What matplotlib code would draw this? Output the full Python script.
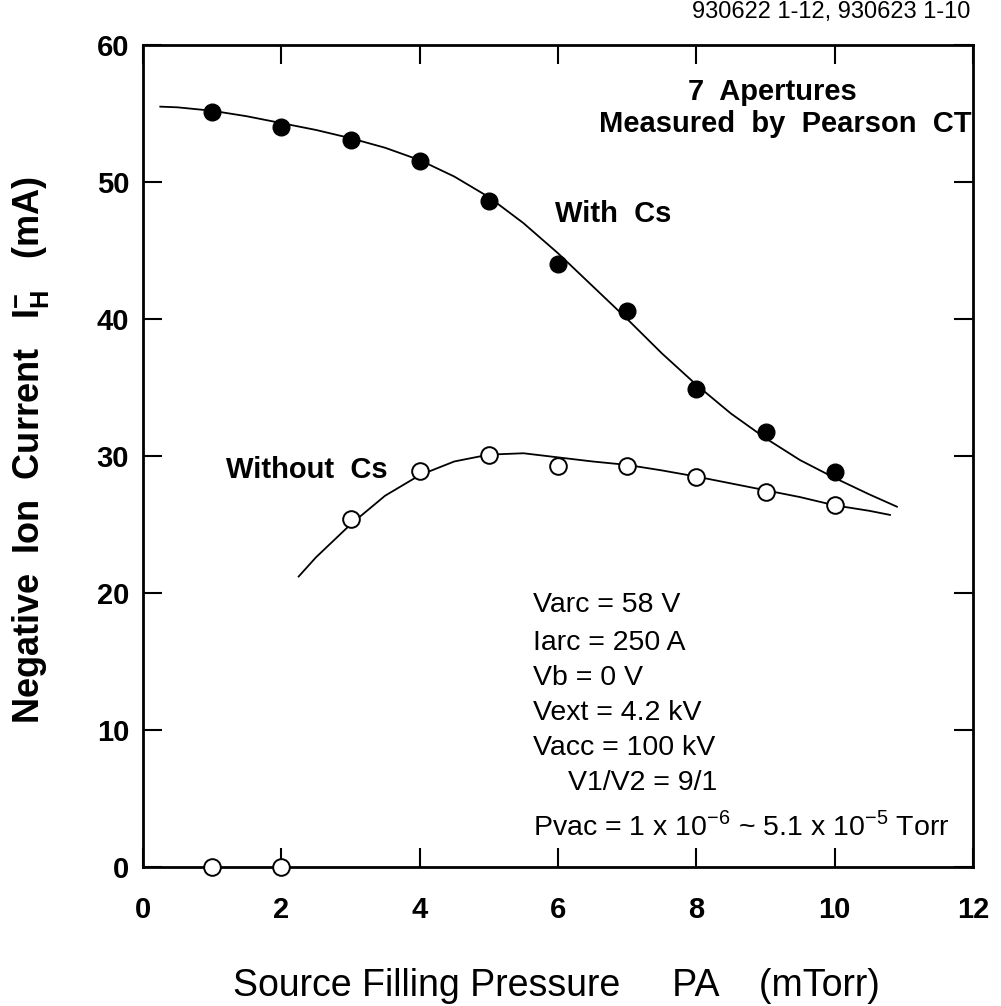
import numpy as np
import matplotlib
matplotlib.use('Agg')
import matplotlib.pyplot as plt

plt.rcParams['font.family'] = ['Liberation Sans', 'DejaVu Sans']

# measured points
pressure = [1, 2, 3, 4, 5, 6, 7, 8, 9, 10]
with_cs = [55.1, 54.0, 53.1, 51.5, 48.6, 44.0, 40.6, 34.9, 31.75, 28.8]
without_cs = [0, 0, 25.4, 28.9, 30.1, 29.3, 29.3, 28.5, 27.4, 26.4]

# hand-drawn guide curves
with_curve_x = [0.25, 0.5, 1.0, 1.5, 2.0, 2.5, 3.0, 3.5, 4.0, 4.5, 5.0, 5.5,
                6.0, 6.5, 7.0, 7.5, 8.0, 8.5, 9.0, 9.5, 10.0, 10.5, 10.9]
with_curve_y = [55.5, 55.45, 55.2, 54.8, 54.3, 53.8, 53.2, 52.5, 51.6, 50.4,
                48.9, 47.0, 44.8, 42.4, 40.0, 37.5, 35.2, 33.1, 31.3, 29.7,
                28.4, 27.2, 26.3]
without_curve_x = [2.25, 2.5, 3.0, 3.5, 4.0, 4.5, 5.0, 5.5, 6.0, 6.5, 7.0,
                   7.5, 8.0, 8.5, 9.0, 9.5, 10.0, 10.5, 10.8]
without_curve_y = [21.2, 22.6, 25.0, 27.1, 28.6, 29.6, 30.1, 30.2, 29.9, 29.6,
                   29.35, 28.95, 28.5, 28.0, 27.5, 27.0, 26.4, 26.0, 25.7]

xticks = [0, 2, 4, 6, 8, 10, 12]
yticks = [0, 10, 20, 30, 40, 50, 60]

params = ['Varc = 58 V', 'Iarc = 250 A', 'Vb = 0 V', 'Vext = 4.2 kV',
          'Vacc = 100 kV']
param_y = [19.1, 16.35, 13.8, 11.24, 8.7]

fig = plt.figure(figsize=(10.01, 10.06), dpi=100)
ax = fig.add_axes([143 / 1001, 1 - 867 / 1006, 830 / 1001, 822 / 1006])

ax.plot(with_curve_x, with_curve_y, color='black', lw=1.3, zorder=2)
ax.plot(without_curve_x, without_curve_y, color='black', lw=1.3, zorder=2)

ax.plot(pressure, with_cs, 'o', color='black', ms=12, zorder=3, clip_on=False)
ax.plot(pressure, without_cs, 'o', mfc='white', mec='black', mew=1.4, ms=12,
        zorder=3, clip_on=False)

ax.set_xlim(0, 12)
ax.set_ylim(0, 60)
ax.set_xticks(xticks)
ax.set_yticks(yticks)
ax.set_xticklabels([str(t) for t in xticks], fontsize=21, fontweight='bold')
ax.set_yticklabels([str(t) for t in yticks], fontsize=21, fontweight='bold')
ax.tick_params(axis='x', direction='in', length=14, width=1.5, top=True,
               pad=21)
ax.tick_params(axis='y', direction='in', length=14, width=1.5, right=True,
               pad=10)
for s in ax.spines.values():
    s.set_linewidth(2)

fig.text(556 / 1001, 1 - 986 / 1006, 'Source Filling Pressure     PA    (mTorr)',
         ha='center', va='center', fontsize=27)
fig.text(31 / 1001, 1 - 450 / 1006,
         r'Negative  Ion  Current   I$_{\mathregular{H}}^{\mathregular{-}}$   (mA)',
         ha='center', va='center', rotation=90, fontsize=26, fontweight='bold')

ax.text(9.1, 56.6, '7  Apertures', ha='center', va='center', fontsize=21,
        fontweight='bold')
ax.text(11.98, 54.2, 'Measured  by  Pearson  CT', ha='right', va='center',
        fontsize=21, fontweight='bold')
ax.text(6.8, 47.7, 'With  Cs', ha='center', va='center', fontsize=21,
        fontweight='bold')
ax.text(2.37, 29.0, 'Without  Cs', ha='center', va='center', fontsize=21,
        fontweight='bold')

for t, y in zip(params, param_y):
    ax.text(5.64, y, t, ha='left', va='center', fontsize=20.5)
ax.text(6.14, 6.1, 'V1/V2 = 9/1', ha='left', va='center', fontsize=20.5)
ax.text(5.64, 3.0, r'Pvac = 1 x 10$^{\mathregular{-6}}$ ~ 5.1 x 10$^{\mathregular{-5}}$ Torr',
        ha='left', va='center', fontsize=20.5)

fig.text(970 / 1001, 1 - 12 / 1006, '930622 1-12, 930623 1-10', ha='right',
         va='center', fontsize=17)

fig.savefig('out.png', dpi=100)
